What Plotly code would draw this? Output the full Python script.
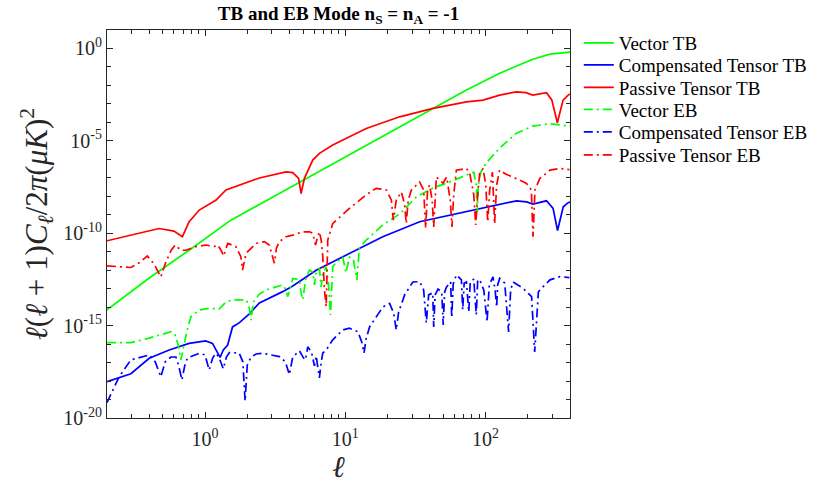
import plotly.graph_objects as go
import math

# ---------------- data ----------------
vector_tb_ell = [0.2, 0.40, 0.77, 1.53, 2.44, 4.71, 9.10, 17.5, 42.2, 73.1, 126, 217, 288, 380, 400]
vector_tb_val = [7.1e-15, 3.8e-13, 1.2e-11, 5.1e-10, 3.6e-09, 5.6e-08, 8.7e-07, 1.35e-05, 5.7e-04,
                 5.6e-03, 4.6e-02, 0.26, 0.49, 0.63, 0.63]

comp_tb_ell = [0.2, 0.296, 0.40, 0.555, 0.77, 1.01, 1.13, 1.20, 1.28, 1.35, 1.45, 1.57, 1.75, 2.07,
               2.44, 3.58, 4.22, 6.2, 10.7, 18.5, 33.9, 73.1, 126, 166, 196, 218, 272, 303, 326, 358,
               388, 400]
comp_tb_val = [9.3e-19, 2.5e-18, 1.7e-17, 4.8e-17, 1.1e-16, 1.5e-16, 1.1e-16, 4.8e-17, 1.9e-17,
               4.8e-17, 8.9e-17, 8.5e-16, 1.4e-15, 4.3e-15, 1.7e-14, 6.9e-14, 1.4e-13, 1.0e-12,
               8.2e-12, 6.5e-11, 4.2e-10, 1.45e-09, 3.4e-09, 5.7e-09, 5.0e-09, 3.8e-09, 5.7e-09,
               2.2e-09, 1.4e-10, 2.7e-09, 4.5e-09, 4.9e-09]

passive_tb_ell = [0.2, 0.30, 0.47, 0.60, 0.69, 0.77, 0.91, 1.20, 1.41, 2.44, 3.78, 4.22, 4.65, 4.84,
                  5.11, 5.86, 6.54, 8.14, 14.1, 24.4, 42.2, 73.1, 96, 126, 166, 194, 217, 272, 297,
                  325, 357, 388, 400]
passive_tb_val = [3.9e-11, 7.9e-11, 1.8e-10, 1.3e-10, 6.5e-11, 4.2e-10, 1.8e-09, 6.3e-09, 2.2e-08,
                  9.8e-08, 2.1e-07, 1.9e-07, 9.3e-08, 1.4e-08, 9.3e-08, 9.1e-07, 2.1e-06, 5.9e-06,
                  4.7e-05, 2.0e-04, 5.7e-04, 1.3e-03, 1.6e-03, 3.0e-03, 4.5e-03, 4.1e-03, 3.0e-03,
                  4.0e-03, 1.6e-03, 9.5e-05, 1.6e-03, 3.0e-03, 3.4e-03]

vector_eb_ell = [0.2, 0.296, 0.40, 0.571, 0.612, 0.644, 0.673, 0.699, 0.746, 0.793, 0.91, 1.07, 1.26,
                 1.41, 1.57, 1.96, 2.05, 2.13, 2.21, 2.44, 2.72, 3.58, 3.78, 3.88, 4.03, 4.22, 4.71,
                 4.84, 4.97, 5.26, 5.55, 5.86, 6.03, 6.20, 6.54, 6.73, 6.91, 7.31, 7.59, 7.84, 8.14,
                 8.61, 9.09, 9.60, 10.1, 10.7, 11.4, 12.1, 12.6, 14.1, 18.5, 24.4, 32.1, 42.2, 52.6,
                 73.1, 82.4, 85.9, 87.3, 88.7, 92.4, 101, 126, 166, 218, 288, 378, 400]
vector_eb_val = [1.2e-16, 1.2e-16, 2.1e-16, 4.7e-16, 3.1e-16, 8.9e-17, 1.4e-17, 6.2e-17, 5.8e-16,
                 3.0e-15, 7.1e-15, 8.7e-15, 7.9e-15, 1.9e-14, 2.5e-14, 2.5e-14, 1.3e-14, 2.0e-15,
                 1.9e-14, 5.1e-14, 8.5e-14, 1.6e-13, 8.5e-14, 3.7e-14, 8.5e-14, 3.6e-13, 3.0e-13,
                 5.9e-14, 2.5e-14, 4.3e-13, 1.0e-12, 7.9e-13, 1.6e-13, 7.1e-13, 1.3e-12, 1.2e-13,
                 7.1e-13, 1.5e-12, 1.6e-13, 3.8e-15, 1.5e-12, 2.8e-12, 3.5e-12, 5.1e-12, 7.1e-13,
                 5.1e-12, 4.0e-12, 3.0e-13, 1.6e-11, 4.3e-11, 2.8e-10, 1.1e-09, 9.1e-09, 2.8e-08,
                 5.1e-08, 1.4e-07, 2.0e-07, 4.1e-08, 1.4e-09, 4.1e-08, 2.0e-07, 6.3e-07, 4.1e-06,
                 2.6e-05, 6.3e-05, 8.5e-05, 7.1e-05, 6.3e-05]

comp_eb_ell = [0.2, 0.244, 0.296, 0.40, 0.441, 0.484, 0.520, 0.571, 0.620, 0.649, 0.684, 0.716, 0.750,
               0.909, 1.00, 1.07, 1.135, 1.196, 1.26, 1.35, 1.42, 1.49, 1.75, 1.86, 1.93, 2.00, 2.13,
               2.31, 2.57, 3.39, 3.74, 3.99, 4.22, 4.71, 5.03, 5.20, 5.40, 5.74, 6.03, 6.20, 6.38,
               6.54, 6.74, 6.91, 7.31, 8.14, 9.60, 10.7, 12.3, 13.1, 13.6, 14.1, 14.9, 18.5, 20.7,
               22.1, 23.1, 24.0, 26.5, 30.3, 33.9, 36.2, 37.8, 39.3, 42.0, 42.7, 43.7, 45.8, 48.7,
               49.9, 51.1, 52.6, 56.4, 57.4, 58.8, 61.9, 67.3, 68.7, 70.4, 73.1, 75.9, 77.8, 82.4,
               85.9, 87.9, 90.9, 97.1, 102.5, 106.3, 113, 117, 120, 122, 126, 137, 146, 151, 157,
               185, 213, 224, 238, 244, 288, 339, 396]
comp_eb_val = [6.8e-20, 1.7e-18, 1.4e-17, 2.6e-17, 1.1e-17, 1.7e-18, 1.1e-17, 2.0e-17, 2.0e-17,
               6.6e-18, 1.15e-18, 6.6e-18, 1.8e-17, 3.2e-17, 2.6e-17, 4.0e-18, 1.8e-17, 3.2e-17,
               1.8e-17, 4.6e-18, 2.0e-17, 3.5e-17, 3.3e-17, 1.1e-17, 8.3e-20, 7.4e-18, 2.0e-17,
               2.9e-17, 3.2e-17, 2.1e-17, 1.1e-17, 2.2e-18, 2.0e-17, 4.3e-17, 1.8e-17, 1.4e-17,
               7.1e-17, 3.7e-17, 6.6e-18, 2.3e-17, 5.1e-18, 1.5e-18, 1.1e-17, 3.3e-17, 4.8e-17,
               1.7e-16, 5.8e-16, 7.2e-16, 4.7e-16, 1.3e-16, 3.3e-17, 2.1e-16, 8.5e-16, 1.0e-14,
               1.6e-14, 4.8e-15, 5.8e-16, 5.5e-15, 4.6e-14, 2.3e-13, 2.4e-13, 8.5e-14, 1.4e-15,
               4.6e-14, 5.9e-14, 8.5e-16, 4.6e-14, 9.5e-14, 6.6e-14, 1.1e-15, 6.6e-14, 1.2e-13,
               2.3e-13, 2.6e-15, 1.8e-13, 5.5e-13, 3.0e-13, 7.1e-15, 2.0e-13, 2.3e-13, 5.5e-15,
               2.3e-13, 3.3e-13, 3.8e-15, 3.0e-13, 3.0e-13, 8.5e-14, 1.6e-15, 1.6e-13, 4.3e-13,
               8.5e-14, 1.0e-14, 1.6e-13, 3.6e-13, 2.0e-13, 4.6e-16, 8.5e-14, 2.3e-13, 1.05e-13,
               3.7e-14, 3.7e-17, 6.6e-14, 8.5e-14, 3.0e-13, 4.5e-13, 4.0e-13]

passive_eb_ell = [0.2, 0.296, 0.339, 0.388, 0.434, 0.484, 0.526, 0.574, 0.612, 0.673, 0.731, 0.861,
                  1.015, 1.16, 1.23, 1.30, 1.36, 1.45, 1.66, 1.80, 1.85, 1.96, 2.31, 2.65, 2.87, 3.04,
                  3.12, 3.23, 3.39, 3.78, 4.22, 4.97, 5.55, 5.86, 6.13, 6.36, 6.54, 6.73, 6.91, 7.10,
                  7.31, 7.50, 8.14, 10.7, 14.1, 16.6, 19.6, 21.3, 22.0, 23.1, 25.1, 26.5, 27.2, 28.1,
                  29.6, 33.9, 36.2, 37.4, 38.6, 39.9, 41.6, 42.7, 43.7, 44.6, 49.7, 52.8, 56.0, 57.6,
                  59.3, 61.9, 73.1, 77.1, 82.4, 85.1, 87.9, 90.9, 96.0, 100.3, 103.7, 107, 112, 116,
                  120, 126, 139, 157, 175, 196, 212, 218, 225, 244, 288, 339, 396]
passive_eb_val = [1.7e-12, 1.4e-12, 2.5e-12, 5.9e-12, 2.1e-12, 4.3e-13, 2.8e-12, 1.2e-11, 2.3e-11,
                  1.2e-11, 1.2e-11, 1.9e-11, 2.3e-11, 1.9e-11, 2.3e-11, 1.2e-11, 5.9e-12, 2.8e-11,
                  1.9e-11, 5.4e-12, 1.0e-12, 8.2e-12, 2.8e-11, 3.5e-11, 2.3e-11, 5.4e-12, 2.4e-12,
                  1.6e-11, 3.5e-11, 6.5e-11, 7.9e-11, 1.2e-10, 1.2e-10, 1.0e-10, 2.3e-11, 6.5e-11,
                  1.2e-10, 4.3e-11, 5.4e-12, 8.5e-14, 1.06e-14, 4.3e-11, 3.4e-10, 2.2e-09, 1.2e-08,
                  2.7e-08, 2.2e-08, 6.3e-09, 5.1e-10, 6.3e-09, 1.7e-08, 3.4e-09, 3.4e-10, 6.3e-09,
                  2.2e-08, 5.9e-08, 2.2e-08, 1.9e-10, 2.2e-08, 4.1e-08, 6.3e-09, 2.2e-10, 1.2e-08,
                  1.1e-07, 5.2e-08, 1.1e-07, 6.3e-09, 2.2e-10, 1.2e-08, 2.6e-07, 3.2e-07, 1.8e-07,
                  1.2e-08, 2.8e-10, 1.2e-08, 2.0e-07, 3.2e-07, 4.1e-08, 4.1e-10, 2.2e-08, 2.0e-07,
                  3.2e-10, 4.1e-08, 2.6e-07, 1.6e-07, 1.1e-07, 7.6e-08, 5.0e-08, 2.2e-08, 6.5e-11,
                  2.2e-08, 9.3e-08, 2.6e-07, 3.2e-07, 2.8e-07]

x_tick_vals = [1, 10, 100]
x_tick_text = ["10<sup>0</sup>", "10<sup>1</sup>", "10<sup>2</sup>"]
x_minor_vals = [0.2, 0.3, 0.4, 0.5, 0.6, 0.7, 0.8, 0.9, 2, 3, 4, 5, 6, 7, 8, 9,
                20, 30, 40, 50, 60, 70, 80, 90, 200, 300, 400]
y_tick_exps = [0, -5, -10, -15, -20]
y_minor_exps = list(range(-20, 2))

# ---------------- figure ----------------
FONT = "Liberation Serif, Times New Roman, serif"
DASHDOT = "9px,4px,2px,4px"
GREEN, BLUE, RED = "#00FF00", "#0000FF", "#FF0000"
LW = 1.7
AX = "#262626"

series = [
    ("Vector TB", vector_tb_ell, vector_tb_val, GREEN, "solid"),
    ("Compensated Tensor TB", comp_tb_ell, comp_tb_val, BLUE, "solid"),
    ("Passive Tensor TB", passive_tb_ell, passive_tb_val, RED, "solid"),
    ("Vector EB", vector_eb_ell, vector_eb_val, GREEN, DASHDOT),
    ("Compensated Tensor EB", comp_eb_ell, comp_eb_val, BLUE, DASHDOT),
    ("Passive Tensor EB", passive_eb_ell, passive_eb_val, RED, DASHDOT),
]
legend_names = ["legend", "legend2", "legend3", "legend4", "legend5", "legend6"]

fig = go.Figure()
for (name, xs, ys, col, dash), lg in zip(series, legend_names):
    fig.add_trace(go.Scatter(x=xs, y=ys, mode="lines", name=name, legend=lg,
                             line=dict(color=col, width=LW, dash=dash)))

axis_common = dict(
    type="log", showgrid=False, zeroline=False, showline=True, linecolor=AX,
    linewidth=1, mirror="allticks", ticks="inside", ticklen=6, tickwidth=1,
    tickcolor=AX, tickfont=dict(family=FONT, size=20, color=AX),
)

fig.update_xaxes(
    **axis_common,
    range=[math.log10(0.2), math.log10(400)],
    tickmode="array", tickvals=x_tick_vals, ticktext=x_tick_text,
    ticklabelstandoff=3,
    minor=dict(tickmode="array", tickvals=x_minor_vals, ticks="inside", ticklen=4,
               tickcolor=AX, showgrid=False),
    title=dict(text="<i>ℓ</i>", font=dict(family=FONT, size=30, color=AX), standoff=2),
)
fig.update_yaxes(
    **axis_common,
    range=[-20, 1],
    tickmode="array", tickvals=[10.0 ** e for e in y_tick_exps],
    ticktext=["10<sup>%d</sup>" % e for e in y_tick_exps],
    minor=dict(tickmode="array", tickvals=[10.0 ** e for e in y_minor_exps], ticks="inside",
               ticklen=4, tickcolor=AX, showgrid=False),
    title=dict(text="<i>ℓ</i>(<i>ℓ</i> + 1)<i>C</i><sub><i>ℓ</i></sub>/2<i>π</i>(<i>μK</i>)<sup>2</sup>",
               font=dict(family=FONT, size=31, color=AX), standoff=6),
)

# one single-entry legend per series, stacked at the reference spacing
plot_top, plot_h = 30, 388
legend_rows_px = [43, 65, 87.5, 109.5, 132, 155]
legend_layout = {}
for lg, py in zip(legend_names, legend_rows_px):
    legend_layout[lg] = dict(
        x=1.019, y=1 - (py - plot_top) / plot_h, xanchor="left", yanchor="middle",
        bgcolor="rgba(0,0,0,0)", borderwidth=0, itemwidth=30,
        font=dict(family=FONT, size=19, color="black"),
    )

fig.update_layout(
    width=815, height=490,
    margin=dict(l=107, r=245, t=30, b=72, autoexpand=False),
    paper_bgcolor="white", plot_bgcolor="white",
    font=dict(family=FONT, color="black"),
    title=dict(text="<b>TB and EB Mode n<sub>S</sub> = n<sub>A</sub> = -1</b>",
               font=dict(family=FONT, size=19, color="black"),
               x=0.5, xref="paper", xanchor="center",
               y=1 - 13 / 490, yref="container", yanchor="middle"),
    showlegend=True,
    **legend_layout,
)

fig.write_html("out.html")
